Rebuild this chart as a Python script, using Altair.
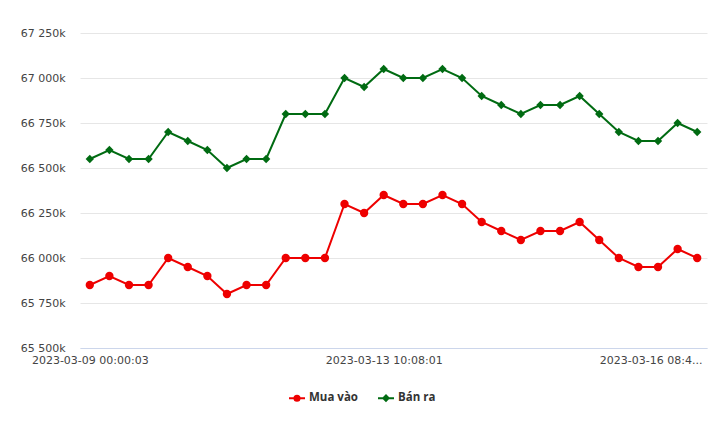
import altair as alt
import pandas as pd

# x positions (sample index) and the three visible tick labels
tick_index = [0, 15, 30]
tick_labels = ["2023-03-09 00:00:03", "2023-03-13 10:08:01", "2023-03-16 08:4..."]

mua_vao = [65850, 65900, 65850, 65850, 66000, 65950, 65900, 65800, 65850, 65850,
           66000, 66000, 66000, 66300, 66250, 66350, 66300, 66300, 66350, 66300,
           66200, 66150, 66100, 66150, 66150, 66200, 66100, 66000, 65950, 65950,
           66050, 66000]
ban_ra = [66550, 66600, 66550, 66550, 66700, 66650, 66600, 66500, 66550, 66550,
          66800, 66800, 66800, 67000, 66950, 67050, 67000, 67000, 67050, 67000,
          66900, 66850, 66800, 66850, 66850, 66900, 66800, 66700, 66650, 66650,
          66750, 66700]

series_names = ["Mua vào", "Bán ra"]
series_colors = ["#ee0000", "#006b12"]

rows = []
for i, v in enumerate(mua_vao):
    rows.append({"i": i, "value": v, "series": series_names[0]})
for i, v in enumerate(ban_ra):
    rows.append({"i": i, "value": v, "series": series_names[1]})
df = pd.DataFrame(rows)

label_map = "{" + ",".join(f"'{k}':'{v}'" for k, v in zip(tick_index, tick_labels)) + "}"

x = alt.X("i:Q", scale=alt.Scale(domain=[-0.5, 31.5], nice=False, zero=False),
          axis=alt.Axis(values=tick_index, labelExpr=f"{label_map}[datum.value]",
                        title=None, grid=False, ticks=False, domainColor="#ccd6eb",
                        domainWidth=1, labelPadding=6, labelFont="DejaVu Sans",
                        labelFontSize=11, labelColor="#444444",
                        labelOffset={"expr": "datum.value == 30 ? -27 : 0"},
                        labelOverlap=False, labelFlush=False, labelBound=False))
y = alt.Y("value:Q", scale=alt.Scale(domain=[65500, 67250], nice=False, zero=False),
          axis=alt.Axis(values=[65500 + 250 * k for k in range(8)],
                        labelExpr="floor(datum.value/1000) + ' ' + format(datum.value%1000,'03d') + 'k'",
                        title=None, domain=False, ticks=False, gridColor="#e6e6e6",
                        labelPadding=15, labelFont="DejaVu Sans", labelFontSize=11,
                        labelColor="#444444"))

base = alt.Chart(df)
layers = []
shapes = ["circle", "diamond"]
for name, col, shp in zip(series_names, series_colors, shapes):
    sub = base.transform_filter(alt.datum.series == name)
    layers.append(sub.mark_line(strokeWidth=2, color=col).encode(x=x, y=y))
    layers.append(sub.mark_point(shape=shp, filled=True, size=70, opacity=1, color=col).encode(x=x, y=y))

color_scale = alt.Scale(domain=series_names, range=series_colors)
circle_path = "M-1,0L1,0M0.32,0A0.32,0.32 0 1,1 -0.32,0A0.32,0.32 0 1,1 0.32,0Z"
diamond_path = "M-1,0L-0.34,0L0,-0.34L0.34,0L1,0M0.34,0L0,0.34L-0.34,0Z"
leg = alt.Legend(title=None, orient="none", legendX=208, legendY=356, direction="horizontal",
                 symbolSize=256, symbolStrokeWidth=2, symbolOpacity=1, labelFont="Open Sans",
                 labelFontSize=11.5, labelFontWeight="bold", labelColor="#333333",
                 labelOffset=3, columnPadding=16, padding=0)
legend_layer = base.mark_point(filled=True, size=0, opacity=1).encode(
    x=x, y=y,
    color=alt.Color("series:N", scale=color_scale, legend=leg),
    stroke=alt.Stroke("series:N", scale=color_scale, legend=leg),
    shape=alt.Shape("series:N", scale=alt.Scale(domain=series_names, range=[circle_path, diamond_path]), legend=leg),
)
layers.append(legend_layer)

chart = alt.layer(*layers).properties(
    width=627, height=315,
    padding={"left": 80, "top": 33, "right": 13, "bottom": 76},
    autosize="none",
    background="white",
).configure_view(stroke=None)

chart.save("out.html", embed_options={"renderer": "svg", "actions": False})
